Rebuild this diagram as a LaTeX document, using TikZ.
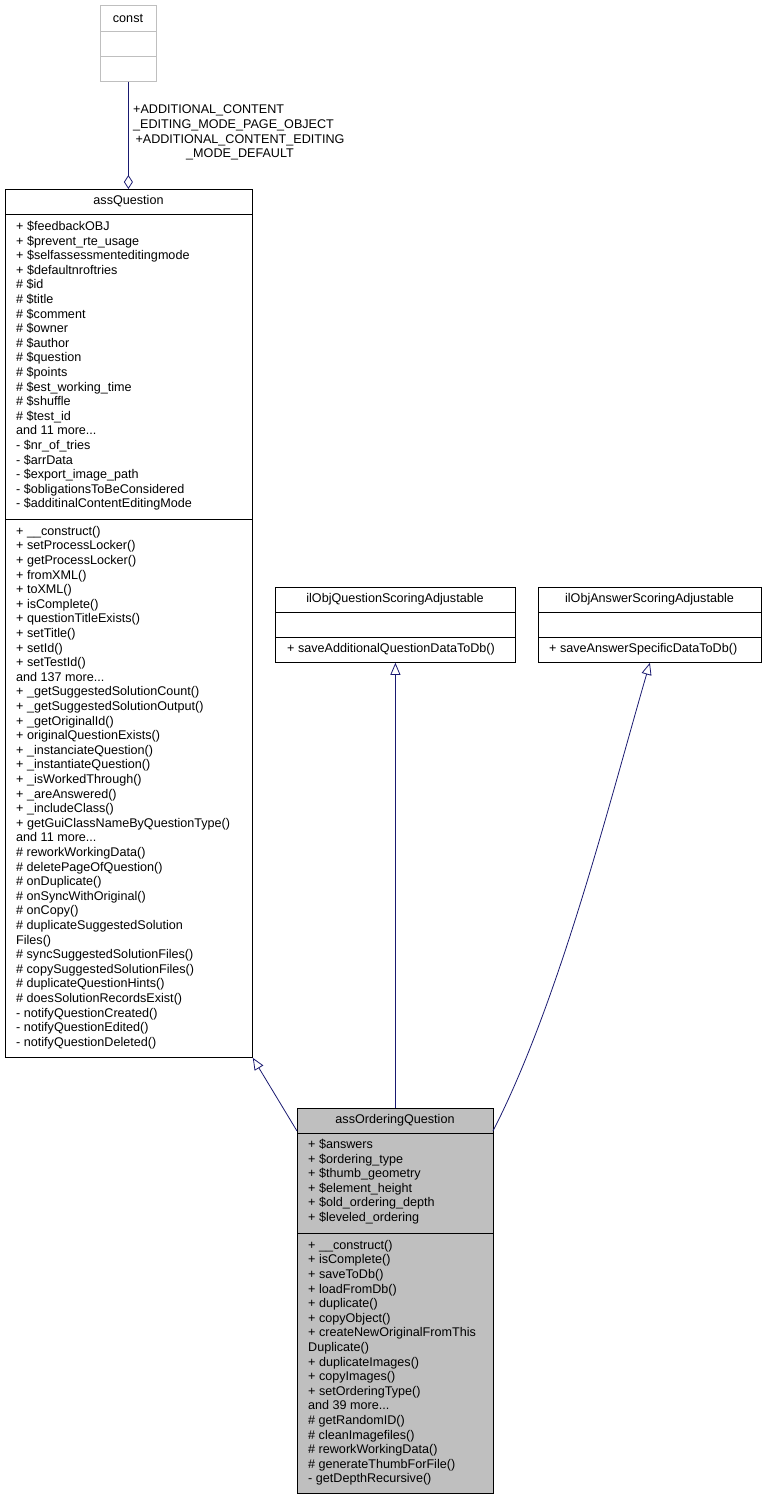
\documentclass[tikz,border=0pt]{standalone}
\usepackage{fontspec}
\setmainfont{Liberation Sans}
\usetikzlibrary{arrows.meta}
\definecolor{navy}{RGB}{25,25,112}
\definecolor{boxgray}{RGB}{191,191,191}
\definecolor{lgray}{RGB}{191,191,191}
\begin{document}
\begin{tikzpicture}[x=1pt,y=-1pt,
  box/.style={draw=black,anchor=north west,inner sep=0,line width=0.8pt},
  txt/.style={anchor=north west,align=left,inner sep=0,font=\fontsize{12.6}{14.6}\selectfont},
  ttl/.style={anchor=center,inner sep=0,font=\fontsize{12.6}{14}\selectfont},
  edge/.style={draw=navy,line width=0.8pt},
  inh/.style={edge,-{Triangle[open,length=12pt,width=10pt]}}]
\useasboundingbox (0,0) rectangle (766,1499);
% const
\node[box,draw=lgray,minimum width=56pt,minimum height=76pt] (c) at (100,5) {};
\draw[lgray,line width=0.8pt] (100,31)--(156,31) (100,56)--(156,56);
\node[ttl] (ct) at (128,18) {const};
% assQuestion
\node[box,minimum width=247pt,minimum height=868pt] (aq) at (5,189) {};
\draw[line width=0.8pt] (5,214)--(252,214) (5,519)--(252,519);
\node[ttl] (aqt) at (128.5,201.5) {assQuestion};
\node[txt] (aqa) at (16,221) {+ \$feedbackOBJ\\+ \$prevent\_rte\_usage\\+ \$selfassessmenteditingmode\\+ \$defaultnroftries\\\# \$id\\\# \$title\\\# \$comment\\\# \$owner\\\# \$author\\\# \$question\\\# \$points\\\# \$est\_working\_time\\\# \$shuffle\\\# \$test\_id\\and 11 more...\\- \$nr\_of\_tries\\- \$arrData\\- \$export\_image\_path\\- \$obligationsToBeConsidered\\- \$additinalContentEditingMode};
\node[txt] (aqm) at (16,526) {+ \_\_construct()\\+ setProcessLocker()\\+ getProcessLocker()\\+ fromXML()\\+ toXML()\\+ isComplete()\\+ questionTitleExists()\\+ setTitle()\\+ setId()\\+ setTestId()\\and 137 more...\\+ \_getSuggestedSolutionCount()\\+ \_getSuggestedSolutionOutput()\\+ \_getOriginalId()\\+ originalQuestionExists()\\+ \_instanciateQuestion()\\+ \_instantiateQuestion()\\+ \_isWorkedThrough()\\+ \_areAnswered()\\+ \_includeClass()\\+ getGuiClassNameByQuestionType()\\and 11 more...\\\# reworkWorkingData()\\\# deletePageOfQuestion()\\\# onDuplicate()\\\# onSyncWithOriginal()\\\# onCopy()\\\# duplicateSuggestedSolution\\Files()\\\# syncSuggestedSolutionFiles()\\\# copySuggestedSolutionFiles()\\\# duplicateQuestionHints()\\\# doesSolutionRecordsExist()\\- notifyQuestionCreated()\\- notifyQuestionEdited()\\- notifyQuestionDeleted()};
% ilObjQuestionScoringAdjustable
\node[box,minimum width=240pt,minimum height=75pt] (q) at (275,587) {};
\draw[line width=0.8pt] (275,612)--(515,612) (275,637)--(515,637);
\node[ttl] (qt) at (395,599.5) {ilObjQuestionScoringAdjustable};
\node[txt] (qm) at (287,643) {+ saveAdditionalQuestionDataToDb()};
% ilObjAnswerScoringAdjustable
\node[box,minimum width=223pt,minimum height=75pt] (a) at (538,587) {};
\draw[line width=0.8pt] (538,612)--(761,612) (538,637)--(761,637);
\node[ttl] (at) at (649.5,599.5) {ilObjAnswerScoringAdjustable};
\node[txt] (am) at (549,643) {+ saveAnswerSpecificDataToDb()};
% assOrderingQuestion
\node[box,fill=boxgray,minimum width=196pt,minimum height=385pt] (o) at (297,1108) {};
\draw[line width=0.8pt] (297,1133)--(493,1133) (297,1233)--(493,1233);
\node[ttl] (ot) at (395,1120.5) {assOrderingQuestion};
\node[txt] (oa) at (308,1139) {+ \$answers\\+ \$ordering\_type\\+ \$thumb\_geometry\\+ \$element\_height\\+ \$old\_ordering\_depth\\+ \$leveled\_ordering};
\node[txt] (om) at (308,1240) {+ \_\_construct()\\+ isComplete()\\+ saveToDb()\\+ loadFromDb()\\+ duplicate()\\+ copyObject()\\+ createNewOriginalFromThis\\Duplicate()\\+ duplicateImages()\\+ copyImages()\\+ setOrderingType()\\and 39 more...\\\# getRandomID()\\\# cleanImagefiles()\\\# reworkWorkingData()\\\# generateThumbForFile()\\- getDepthRecursive()};
% edges
\draw[edge,-{Diamond[open,length=14pt,width=9pt]}] (c.south) -- (c.south |- aq.north);
\node[txt] (l1) at (133,105) {+ADDITIONAL\_CONTENT\\\_EDITING\_MODE\_PAGE\_OBJECT};
\node[txt,align=center,anchor=north] (l2) at (240,134) {+ADDITIONAL\_CONTENT\_EDITING\\\_MODE\_DEFAULT};
\draw[inh] (o.north west |- 0,1131) -- (aq.south east);
\draw[inh] (o.north) -- (o.north |- q.south);
\draw[inh] (493,1131) .. controls (560,1000) and (610,800) .. (a.south);
\end{tikzpicture}
\end{document}
